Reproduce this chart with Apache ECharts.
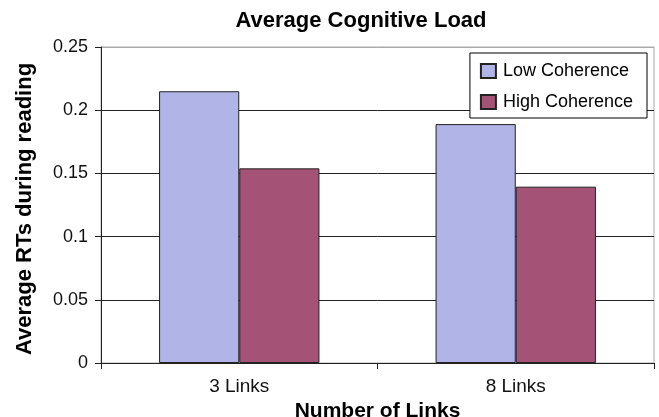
<!DOCTYPE html>
<html><head><meta charset="utf-8">
<script src="https://cdn.jsdelivr.net/npm/echarts@6/dist/echarts.min.js"></script>
<style>html,body{margin:0;padding:0;background:#fff}#c{width:659px;height:417px}</style>
</head><body><div id="c"></div>
<script>
const categories = ['3 Links', '8 Links'];
const lowCoherence = [0.215, 0.189];
const highCoherence = [0.154, 0.1395];
const yTicks = [0, 0.05, 0.1, 0.15, 0.2, 0.25];

const chart = echarts.init(document.getElementById('c'));
const font = 'Liberation Sans, Arial, sans-serif';
chart.setOption({
  animation: false,
  backgroundColor: '#fff',
  title: {
    text: 'Average Cognitive Load', left: 356, top: 5, textAlign: 'center',
    textStyle: {fontFamily: font, fontSize: 22, fontWeight: 'bold', color: '#000'}
  },
  grid: {left: 101, right: 5, top: 47, bottom: 54, show: true, borderColor: '#aaa', borderWidth: 1,
    containLabel: false, outerBoundsMode: 'none'},
  legend: {
    orient: 'vertical', right: 12, top: 53,
    backgroundColor: '#fff', borderColor: '#000', borderWidth: 1,
    padding: [9, 14, 7, 10], itemGap: 13, itemWidth: 15, itemHeight: 14,
    textStyle: {fontFamily: font, fontSize: 18, color: '#000', padding: [0, 0, 0, 2]},
    data: [{name: 'Low Coherence', icon: 'rect'}, {name: 'High Coherence', icon: 'rect'}]
  },
  xAxis: {
    type: 'category', data: categories,
    name: 'Number of Links', nameLocation: 'middle', nameGap: 38,
    nameTextStyle: {fontFamily: font, fontSize: 21, fontWeight: 'bold', color: '#000'},
    axisLine: {lineStyle: {color: '#222', width: 1}},
    axisTick: {show: true, length: 6, alignWithLabel: false, lineStyle: {color: '#222'}},
    axisLabel: {fontFamily: font, fontSize: 19, color: '#111', margin: 14}
  },
  yAxis: {
    type: 'value', min: 0, max: 0.25, interval: 0.05,
    name: 'Average RTs during reading', nameLocation: 'middle', nameGap: 65,
    nameTextStyle: {fontFamily: font, fontSize: 22, fontWeight: 'bold', color: '#000', padding: [0, 8, 0, 0]},
    axisLine: {show: true, lineStyle: {color: '#222', width: 1}},
    axisTick: {show: true, length: 6, lineStyle: {color: '#222'}},
    axisLabel: {fontFamily: font, fontSize: 18, color: '#111', margin: 13,
      formatter: v => String(+v.toFixed(2))},
    splitLine: {show: true, lineStyle: {color: ['#222', '#222', '#222', '#222', '#222', '#aaa'], width: 1}}
  },
  series: [
    {name: 'Low Coherence', type: 'bar', data: lowCoherence, barGap: '0%', barCategoryGap: '42%',
     itemStyle: {color: '#B0B4E6', borderColor: '#222', borderWidth: 1}},
    {name: 'High Coherence', type: 'bar', data: highCoherence,
     itemStyle: {color: '#A45377', borderColor: '#222', borderWidth: 1}}
  ]
});
</script></body></html>
